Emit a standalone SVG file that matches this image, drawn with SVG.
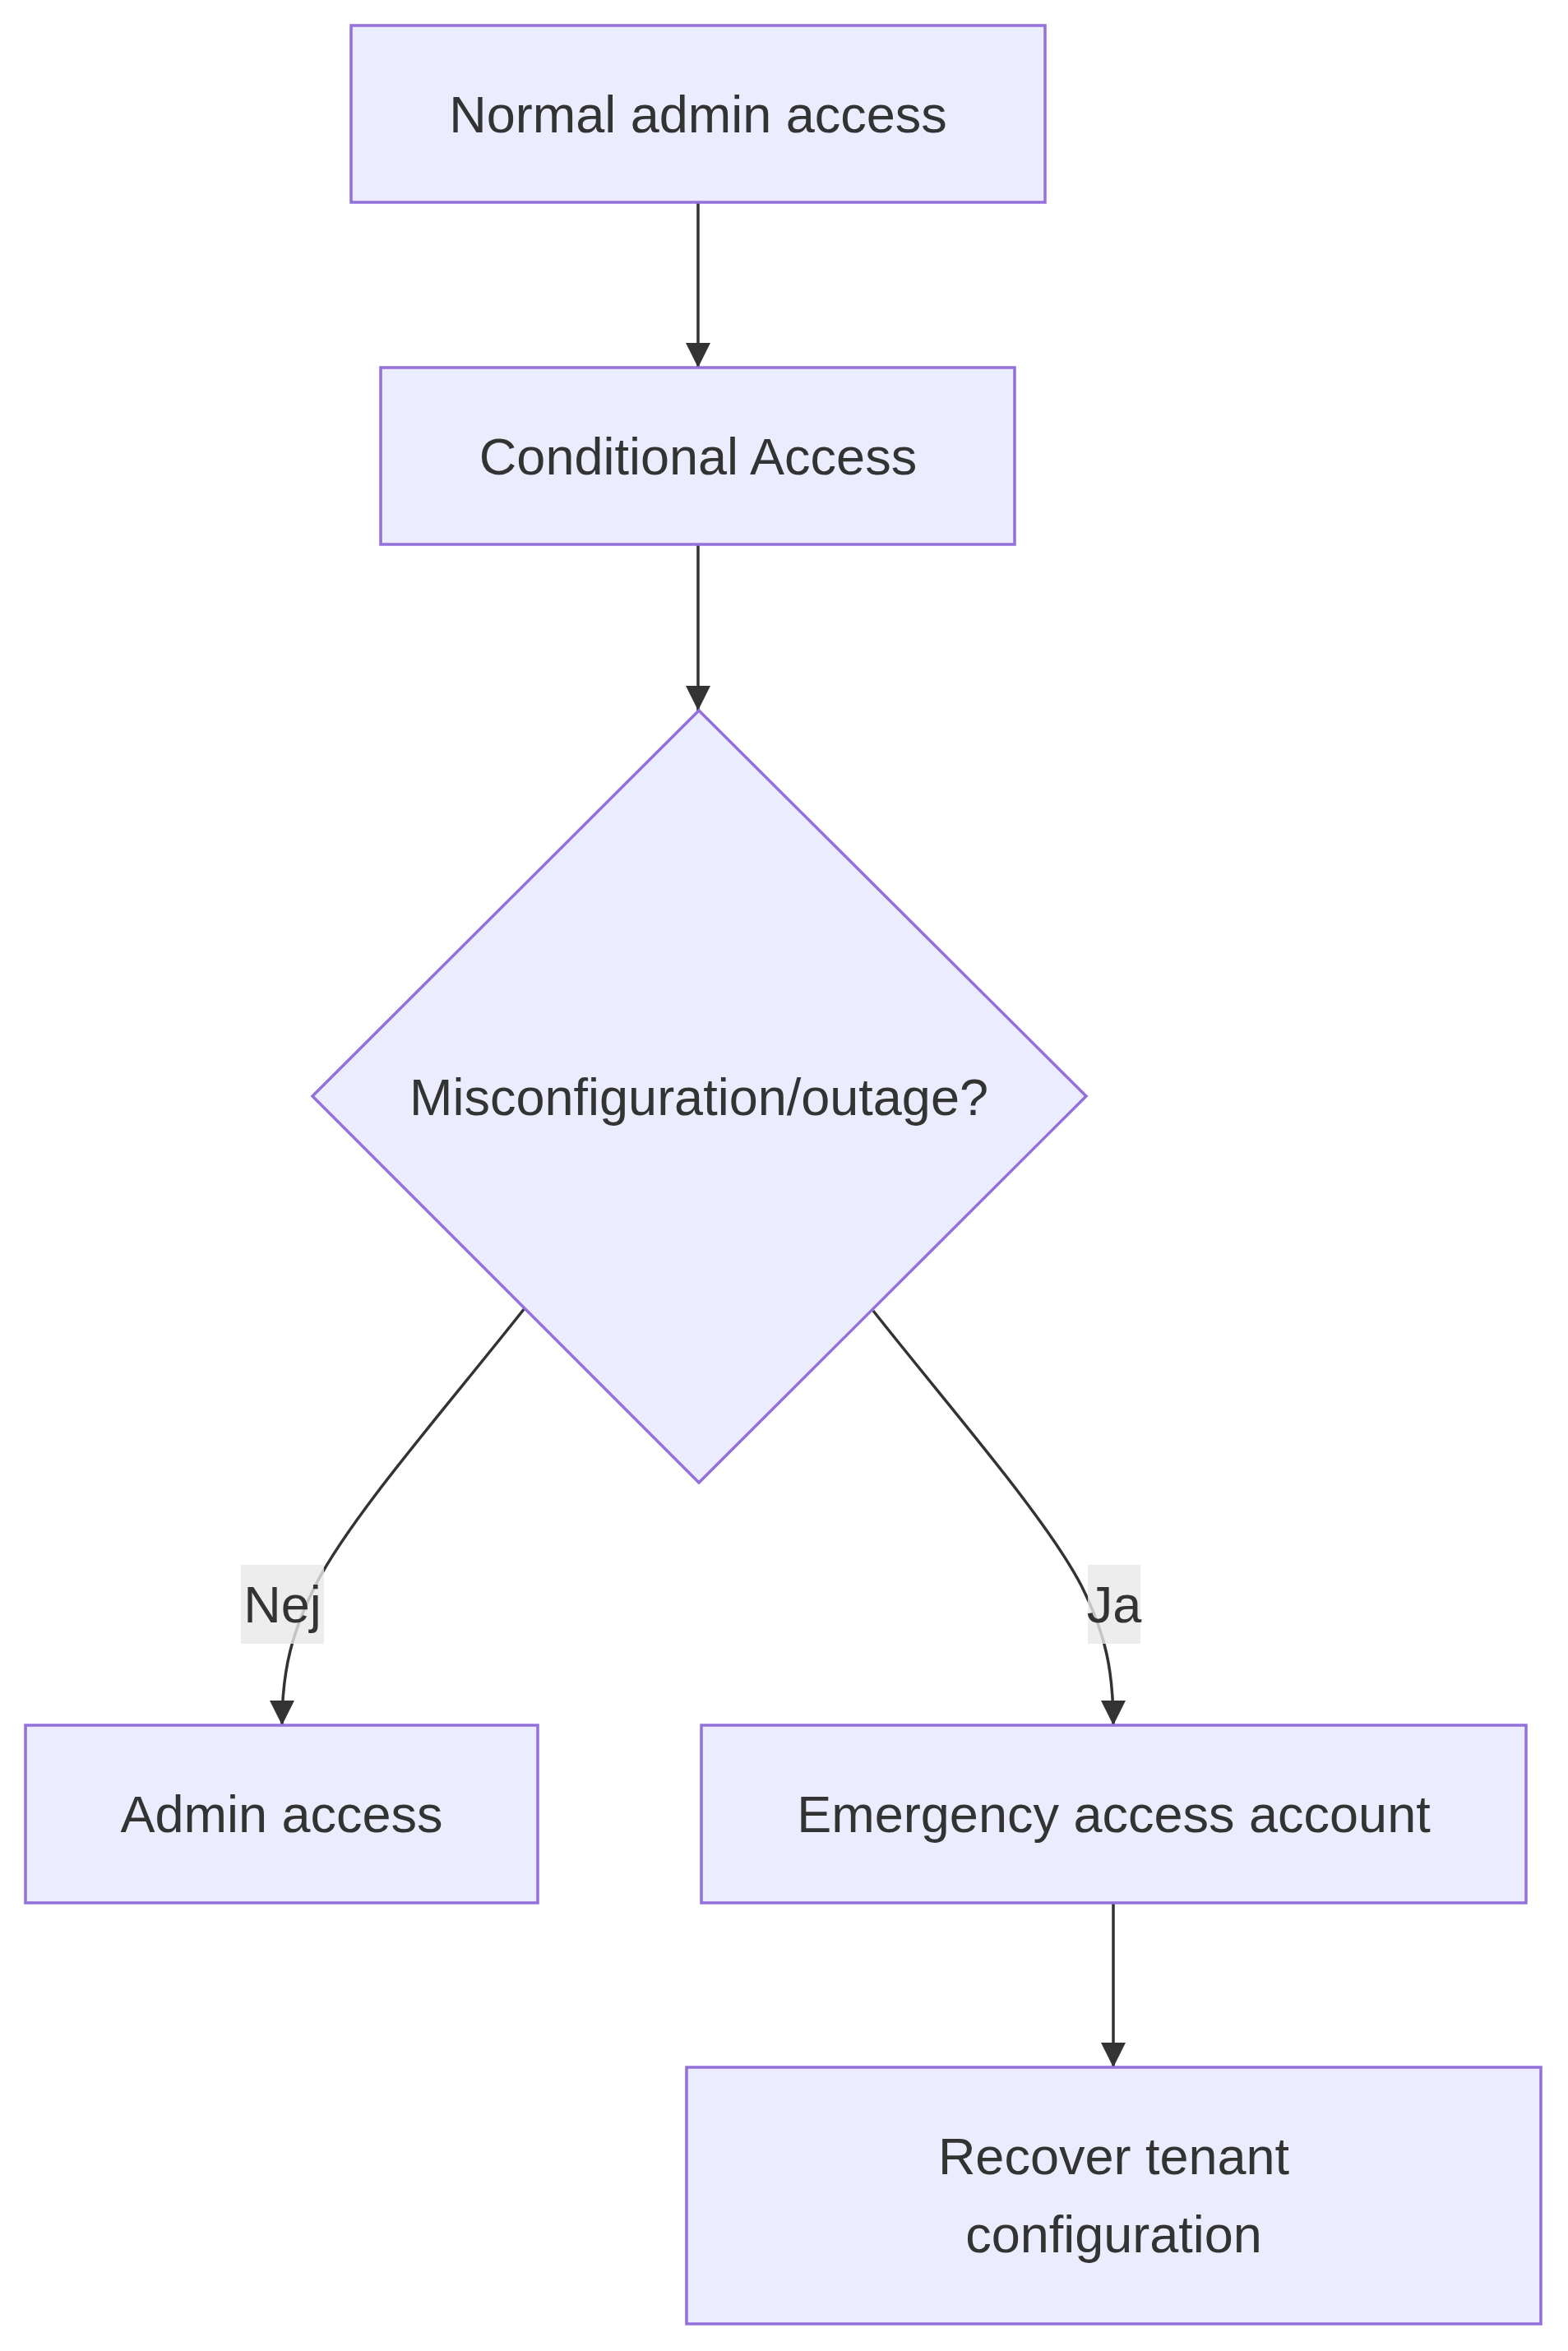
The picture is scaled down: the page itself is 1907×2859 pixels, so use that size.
<svg xmlns="http://www.w3.org/2000/svg" width="1907" height="2859" viewBox="0 0 1907 2859">
<style>
.node rect,.node polygon{fill:#ECECFF;stroke:#9370DB;stroke-width:3.5}
.node text,.lbl text{font-family:"Liberation Sans",Arial,sans-serif;font-size:63px;fill:#333;text-anchor:middle}
.edge{fill:none;stroke:#333;stroke-width:3.5}
.lbl rect{fill:#e8e8e8;fill-opacity:0.8}
</style>
<defs>
<marker id="arr" markerUnits="userSpaceOnUse" markerWidth="30" markerHeight="30" viewBox="0 0 10 10" refX="10" refY="5" orient="auto">
<path d="M0,0 L10,5 L0,10 z" fill="#333"/>
</marker>
</defs>
<rect width="1907" height="2859" fill="#fff"/>
<g id="edges">
<path class="edge" d="M849,246 L849,447" marker-end="url(#arr)"/>
<path class="edge" d="M849,662 L849,864" marker-end="url(#arr)"/>
<path class="edge" d="M638,1591 C540,1715 430,1840 385,1925 C355,1985 343,2030 343,2098" marker-end="url(#arr)"/>
<path class="edge" d="M1062,1594 C1160,1718 1270,1843 1315,1928 C1345,1988 1354,2032 1354,2098" marker-end="url(#arr)"/>
<path class="edge" d="M1354,2314 L1354,2514" marker-end="url(#arr)"/>
</g>
<g id="node-normal" class="node">
<rect x="427" y="31" width="844" height="215"/>
<text x="849" y="161">Normal admin access</text>
</g>
<g id="node-ca" class="node">
<rect x="463" y="447" width="771" height="215"/>
<text x="849" y="577">Conditional Access</text>
</g>
<g id="node-decision" class="node">
<polygon points="850,864 1321,1333 850,1803 380,1333"/>
<text x="850" y="1356">Misconfiguration/outage?</text>
</g>
<g id="node-admin" class="node">
<rect x="31" y="2098" width="623" height="216"/>
<text x="342.5" y="2228">Admin access</text>
</g>
<g id="node-emergency" class="node">
<rect x="853" y="2098" width="1003" height="216"/>
<text x="1354.5" y="2228">Emergency access account</text>
</g>
<g id="node-recover" class="node">
<rect x="835" y="2514" width="1039" height="312"/>
<text x="1354.5" y="2644">Recover tenant</text>
<text x="1354.5" y="2739">configuration</text>
</g>
<g id="edge-labels">
<g class="lbl">
<rect x="293" y="1903" width="101" height="96"/>
<text x="343.5" y="1973">Nej</text>
</g>
<g class="lbl">
<rect x="1323" y="1903" width="64" height="96"/>
<text x="1355" y="1973">Ja</text>
</g>
</g>
</svg>
